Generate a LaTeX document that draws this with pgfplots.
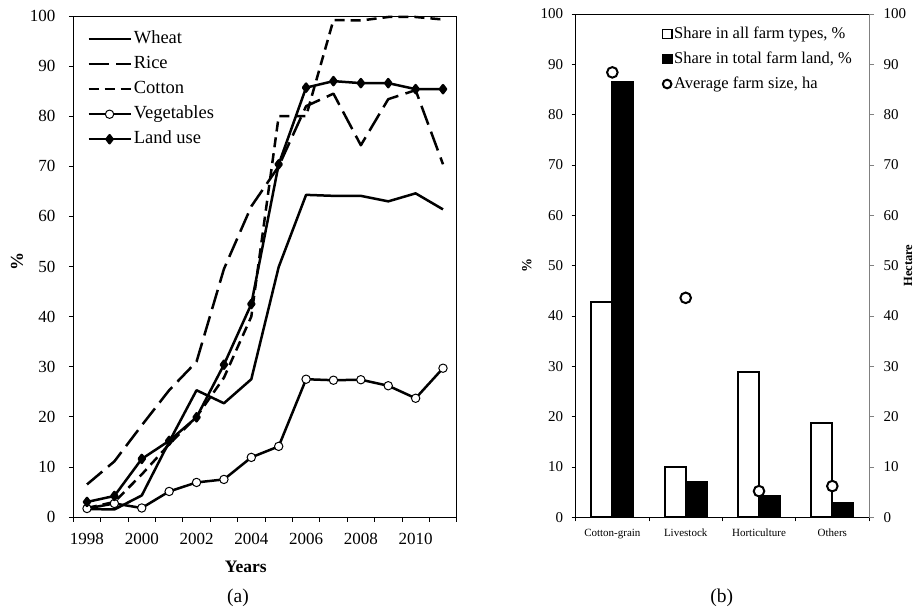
\documentclass[border=0pt]{standalone}
\usepackage{fontspec}
\setmainfont{Liberation Serif}
\usepackage{pgfplots}
\pgfplotsset{compat=1.18}
\begin{document}
\begin{tikzpicture}
\path[use as bounding box] (0,0) rectangle (920bp,607bp);
% ---------------- (a) ----------------
\begin{axis}[
  at={(73.3bp,90bp)}, anchor=south west,
  scale only axis, width=383.4bp, height=501bp, clip=false,
  xmin=1997.5, xmax=2011.5, ymin=0, ymax=100,
  xtick={1997.5,1998.5,...,2011.5}, xticklabels={},
  extra x ticks={1998,2000,...,2010},
  extra x tick labels={1998,2000,2002,2004,2006,2008,2010},
  extra x tick style={major tick length=0pt},
  ytick={0,10,...,100},
  xtick pos=bottom, ytick pos=left,
  tick align=outside, major tick length=4.5bp,
  tick style={black, line width=0.8bp},
  axis line style={line width=0.8bp},
  /pgf/number format/assume math mode=true,
  /pgf/number format/1000 sep={},
  tick label style={font=\fontsize{17bp}{20bp}\selectfont},
  xticklabel style={yshift=-13bp},
  yticklabel style={xshift=-10bp},
  xlabel={\textbf{Years}},
  every axis x label/.style={at={(axis description cs:0.45,-0.1004)}, anchor=center, font=\fontsize{17.5bp}{20bp}\selectfont},
  ylabel={\textbf{\%}},
  every axis y label/.style={at={(axis description cs:-0.147,0.509)}, anchor=center, rotate=90, font=\fontsize{18bp}{20bp}\selectfont},
  legend cell align=left,
  legend style={draw=none, fill=none, at={(0.036,0.971)}, anchor=north west, inner sep=0pt,
    row sep=8bp, font=\fontsize{18.5bp}{21bp}\selectfont,
    nodes={inner xsep=2bp, inner ysep=0pt, text height=13bp, text depth=4bp}},
  legend image code/.code={\draw[mark repeat=2,mark phase=2,#1] plot coordinates {(0bp,0bp) (21bp,0bp) (42bp,0bp)};},
  every axis plot/.append style={line join=round},
]
\addplot[black, line width=2.5bp] coordinates {
 (1998,1.6) (1999,1.5) (2000,4.3) (2001,15.0) (2002,25.3) (2003,22.7) (2004,27.5)
 (2005,49.9) (2006,64.3) (2007,64.1) (2008,64.1) (2009,63.0) (2010,64.6) (2011,61.4)};
\addlegendentry{Wheat}
\addplot[black, line width=2.5bp, dash pattern=on 20bp off 7.5bp] coordinates {
 (1998,6.5) (1999,11.1) (2000,18.3) (2001,25.3) (2002,31.0) (2003,49.5) (2004,62.0)
 (2005,70.0) (2006,82.0) (2007,84.5) (2008,74.2) (2009,83.4) (2010,85.2) (2011,70.4)};
\addlegendentry{Rice}
\addplot[black, line width=2.5bp, dash pattern=on 10bp off 6bp] coordinates {
 (1998,1.8) (1999,3.0) (2000,8.5) (2001,14.5) (2002,20.0) (2003,27.8) (2004,40.0)
 (2005,80.0) (2006,80.0) (2007,99.2) (2008,99.1) (2009,99.8) (2010,99.8) (2011,99.3)};
\addlegendentry{Cotton}
\addplot[black, line width=2.5bp, mark=*, mark size=4.2bp, mark options={fill=white, line width=1bp, solid}] coordinates {
 (1998,1.7) (1999,2.7) (2000,1.8) (2001,5.1) (2002,6.9) (2003,7.5) (2004,11.9)
 (2005,14.1) (2006,27.5) (2007,27.3) (2008,27.4) (2009,26.2) (2010,23.7) (2011,29.7)};
\addlegendentry{Vegetables}
\addplot[black, line width=2.5bp, mark=diamond*, mark size=4bp, mark options={fill=black, solid}] coordinates {
 (1998,3.0) (1999,4.2) (2000,11.6) (2001,15.2) (2002,19.9) (2003,30.4) (2004,42.5)
 (2005,70.4) (2006,85.7) (2007,87.0) (2008,86.6) (2009,86.6) (2010,85.4) (2011,85.4)};
\addlegendentry{Land use}
\node[font=\fontsize{19.5bp}{21bp}\selectfont] at (axis description cs:0.4296,-0.1617) {(a)};
\end{axis}
% ---------------- (b) ----------------
\begin{axis}[
  at={(575.7bp,89.7bp)}, anchor=south west,
  scale only axis, width=293.3bp, height=503.3bp, clip=false,
  xmin=-0.5, xmax=3.5, ymin=0, ymax=100,
  axis x line*=bottom, axis y line*=left,
  xtick={-0.5,0.5,...,3.5}, xticklabels={},
  extra x ticks={0,1,2,3},
  extra x tick labels={Cotton-grain,Livestock,Horticulture,Others},
  extra x tick style={major tick length=0pt},
  ytick={0,10,...,100},
  tick align=outside, major tick length=4bp,
  tick style={black, line width=0.8bp},
  axis line style={line width=0.8bp},
  /pgf/number format/assume math mode=true,
  yticklabel style={font=\fontsize{15bp}{18bp}\selectfont, xshift=-5bp},
  xticklabel style={font=\fontsize{11bp}{13bp}\selectfont, yshift=-8.3bp},
  ylabel={\textbf{\%}},
  every axis y label/.style={at={(axis description cs:-0.167,0.5)}, anchor=center, rotate=90, font=\fontsize{14bp}{16bp}\selectfont},
  legend cell align=left,
  legend style={draw=none, fill=none, at={(0.293,0.976)}, anchor=north west, inner sep=0pt,
    row sep=9.5bp, font=\fontsize{16.5bp}{19bp}\selectfont,
    nodes={inner xsep=1.5bp, inner ysep=0pt, text height=12bp, text depth=3.5bp}},
]
\addplot[ybar, bar width=21bp, bar shift=-10.5bp, fill=white, draw=black, line width=1.8bp,
  legend image code/.code={\draw[fill=white, draw=black, line width=1.5bp] (0.75bp,-4.5bp) rectangle (10bp,4.5bp);}]
  coordinates {(0,42.7) (1,10.0) (2,28.8) (3,18.8)};
\addlegendentry{Share in all farm types, \%}
\addplot[ybar, bar width=21bp, bar shift=10.5bp, fill=black, draw=black, line width=1.8bp,
  legend image code/.code={\draw[fill=black, draw=black, line width=1.5bp] (0.75bp,-4.5bp) rectangle (10bp,4.5bp);}]
  coordinates {(0,86.5) (1,7.0) (2,4.2) (3,2.8)};
\addlegendentry{Share in total farm land, \%}
\addlegendimage{legend image code/.code={\draw[fill=white, draw=black, line width=2bp] (5.3bp,0bp) circle (4.3bp);}}
\addlegendentry{Average farm size, ha}
\node[font=\fontsize{19.5bp}{21bp}\selectfont] at (axis description cs:0.498,-0.160) {(b)};
\end{axis}
\begin{axis}[
  at={(575.7bp,89.7bp)}, anchor=south west,
  scale only axis, width=293.3bp, height=503.3bp,
  xmin=-0.5, xmax=3.5, ymin=0, ymax=100,
  axis x line*=top, axis y line*=right,
  xtick=\empty, ytick={0,10,...,100},
  tick align=outside, major tick length=5bp,
  x axis line style={black, line width=0.8bp},
  y axis line style={gray, line width=0.8bp},
  ytick style={gray, line width=0.8bp},
  /pgf/number format/assume math mode=true,
  yticklabel style={font=\fontsize{15bp}{18bp}\selectfont, xshift=6bp},
  ylabel={\textbf{Hectare}},
  every axis y label/.style={at={(axis description cs:1.133,0.5)}, anchor=center, rotate=90, font=\fontsize{12.5bp}{14bp}\selectfont},
]
\addplot[only marks, mark=*, mark size=5.3bp, mark options={fill=white, draw=black, line width=2bp}]
  coordinates {(0,88.4) (1,43.6) (2,5.2) (3,6.2)};
\end{axis}
\end{tikzpicture}
\end{document}
